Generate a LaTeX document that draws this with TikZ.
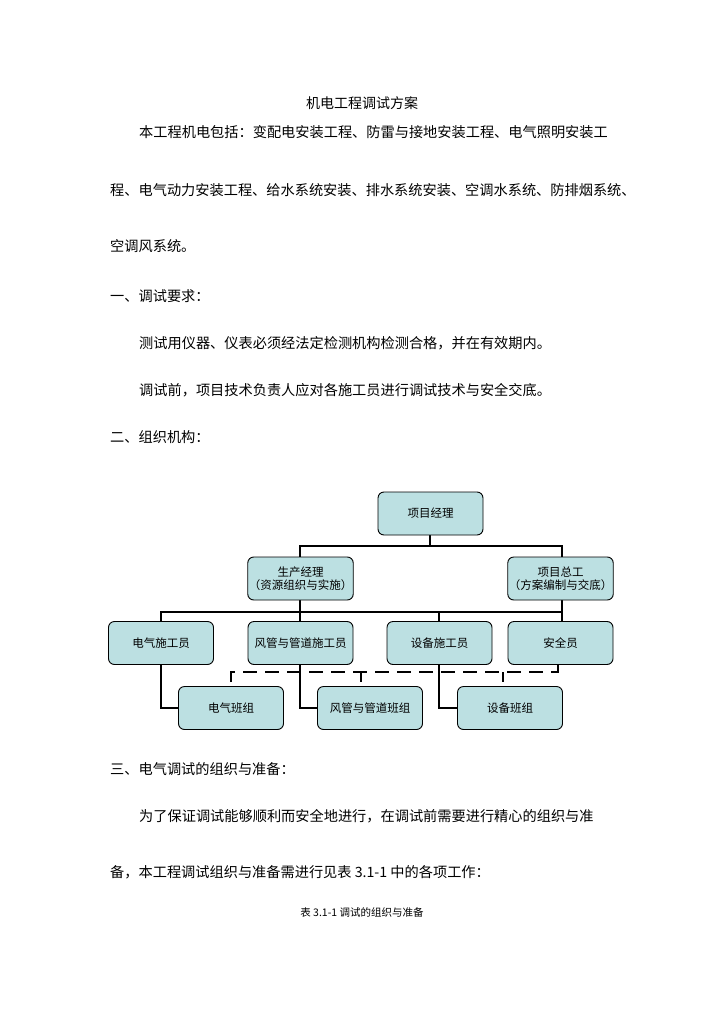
\documentclass[tikz,border=0pt]{standalone}
\usepackage{fontspec}
\newfontfamily\cjk{Noto Sans CJK SC}
\newfontfamily\cjkl{Noto Sans CJK SC Light}
\begin{document}
\begin{tikzpicture}[x=1pt,y=-1pt,
  box/.style={draw=black,line width=0.9pt,fill={rgb,255:red,188;green,224;blue,226},rounded corners=6pt,minimum width=105pt,minimum height=43pt,font=\cjk\fontsize{11.5}{13}\selectfont,align=center,inner sep=1pt},
  link/.style={line width=2.4pt},
  dlink/.style={line width=2.4pt,dash pattern=on 14pt off 8pt},
  body/.style={anchor=west,inner sep=0pt,font=\cjk\fontsize{14.2}{16}\selectfont}]
\useasboundingbox (0,0) rectangle (724,1024);
\node[font=\cjk\fontsize{14}{16}\selectfont] (title) at (362,103) {机电工程调试方案};
\node[body] (l1) at (139,132) {本工程机电包括：变配电安装工程、防雷与接地安装工程、电气照明安装工};
\node[body] (l2) at (110,190) {程、电气动力安装工程、给水系统安装、排水系统安装、空调水系统、防排烟系统、};
\node[body] (l3) at (110,246) {空调风系统。};
\node[body] (l4) at (110,296) {一、调试要求：};
\node[body] (l5) at (139,343) {测试用仪器、仪表必须经法定检测机构检测合格，并在有效期内。};
\node[body] (l6) at (139,390) {调试前，项目技术负责人应对各施工员进行调试技术与安全交底。};
\node[body] (l7) at (110,437) {二、组织机构：};
\node[body] (l8) at (110,769) {三、电气调试的组织与准备：};
\node[body] (l9) at (139,816) {为了保证调试能够顺利而安全地进行，在调试前需要进行精心的组织与准};
\node[body] (l10) at (110,872) {备，本工程调试组织与准备需进行见表 3.1-1 中的各项工作：};
\node[font=\cjk\fontsize{10.5}{12}\selectfont] (cap) at (362,912) {表 3.1-1\ 调试的组织与准备};

% connectors first
\draw[link] (430,535) -- (430,546) -- (300,546) -- (300,557);
\draw[link] (430,546) -- (562,546) -- (562,557);
\draw[link] (300,600) -- (300,622);
\draw[link] (562,600) -- (562,622);
\draw[link] (161,622) -- (161,612) -- (562,612);
\draw[link] (439,612) -- (439,622);
\draw[link] (161,664) -- (161,708) -- (179,708);
\draw[link] (300,664) -- (300,708) -- (318,708);
\draw[link] (439,664) -- (439,708) -- (458,708);
\draw[dlink] (231,682) -- (231,672) -- (558,672) -- (558,664);
\draw[link] (361,672) -- (361,682);
\draw[link] (503,672) -- (503,682);

\node[box] (pm) at (430.5,513.5) {项目经理};
\node[box] (sc) at (300.5,578.5) {生产经理\\（资源组织与实施）};
\node[box] (ce) at (560.5,578.5) {项目总工\\（方案编制与交底）};
\node[box] (e1) at (161,643) {电气施工员};
\node[box] (e2) at (300.5,643) {风管与管道施工员};
\node[box] (e3) at (439.5,643) {设备施工员};
\node[box] (e4) at (560.5,643) {安全员};
\node[box] (t1) at (231,708) {电气班组};
\node[box] (t2) at (370,708) {风管与管道班组};
\node[box] (t3) at (510,708) {设备班组};
\end{tikzpicture}
\end{document}
